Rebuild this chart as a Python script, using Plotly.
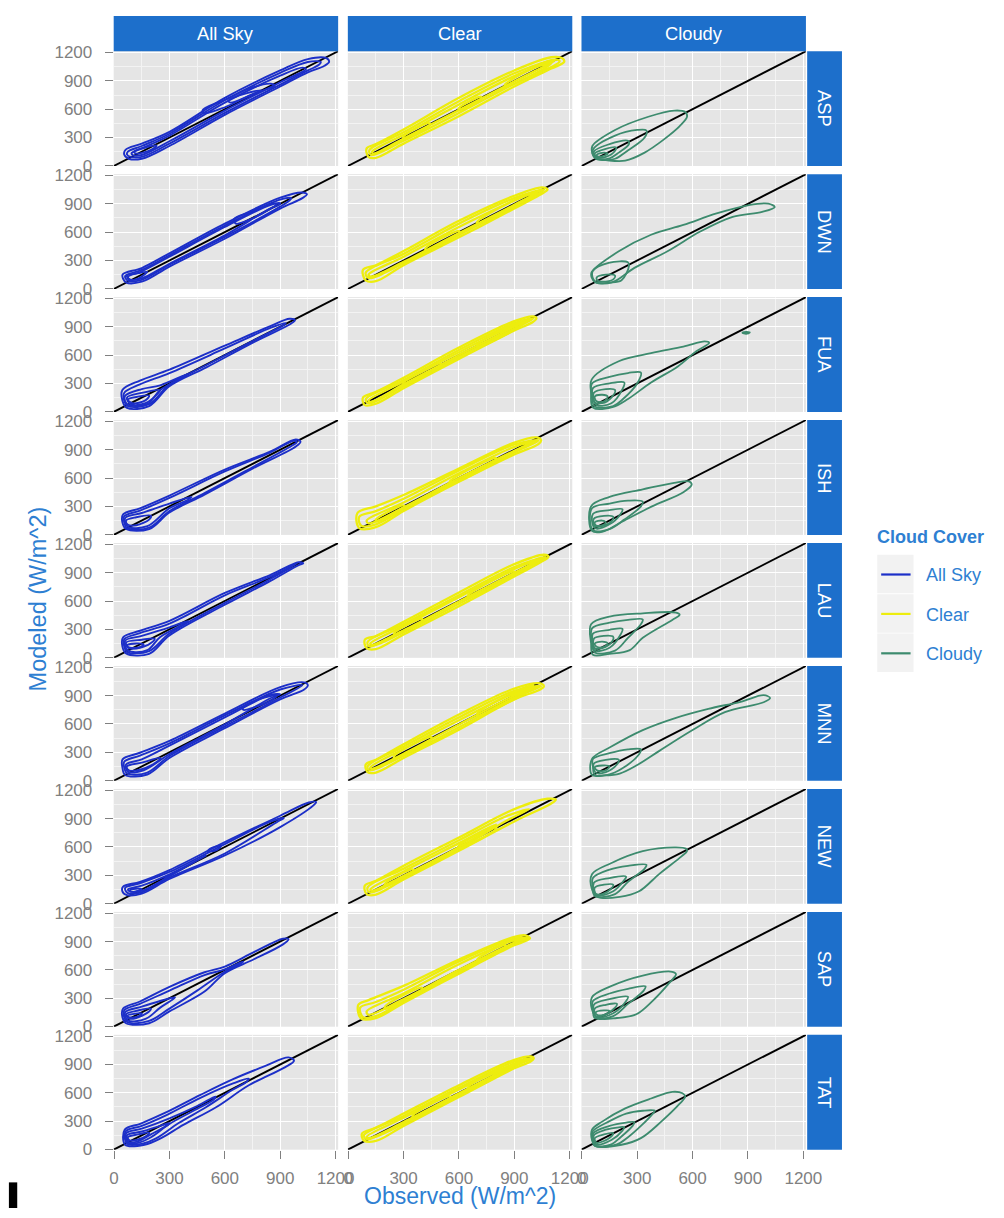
import plotly.graph_objects as go

# ---------------------------------------------------------------------------
# Facet categories, scales and colours
# ---------------------------------------------------------------------------
sites = ["ASP", "DWN", "FUA", "ISH", "LAU", "MNN", "NEW", "SAP", "TAT"]
sky_types = ["All Sky", "Clear", "Cloudy"]
sky_colors = {"All Sky": "#1C2FC8", "Clear": "#EDED0E", "Cloudy": "#3D8B6E"}
major_ticks = [0, 300, 600, 900, 1200]
minor_ticks = [150, 450, 750, 1050]
axis_limits = [-2, 1214]

# ---------------------------------------------------------------------------
# 2-D density contour rings, (observed, modeled) in W/m^2, one list per panel
# ---------------------------------------------------------------------------
asp_all = [
    [(62, 170), (150, 235), (300, 360), (600, 720), (900, 1010), (1050, 1130), (1150, 1140), (1165, 1100),
     (1140, 1060), (1050, 990), (900, 840), (600, 540), (300, 210), (150, 75), (80, 75), (55, 120)],
    [(75, 150), (150, 210), (300, 340), (600, 695), (900, 985), (1050, 1100), (1120, 1100), (1110, 1070),
     (1050, 1010), (900, 860), (600, 560), (300, 235), (150, 95), (90, 95), (70, 120)],
    [(95, 135), (150, 185), (300, 320), (600, 670), (900, 955), (1020, 1040), (1040, 1025), (900, 885),
     (600, 585), (300, 260), (150, 115), (100, 115)],
    [(480, 590), (600, 700), (750, 830), (850, 870), (870, 850), (750, 760), (600, 620), (490, 560)],
    [(620, 690), (720, 770), (800, 800), (720, 730), (630, 670)],
    [(110, 150), (180, 200), (230, 215), (200, 170), (120, 130)],
]
asp_clear = [
    [(100, 185), (150, 230), (300, 385), (600, 720), (900, 1010), (1100, 1150), (1160, 1140), (1170, 1100),
     (1100, 1030), (900, 840), (600, 525), (300, 235), (150, 85), (110, 95)],
    [(115, 165), (300, 355), (600, 685), (900, 980), (1130, 1125), (1145, 1105), (900, 870), (600, 560),
     (300, 265), (125, 115)],
    [(130, 150), (300, 330), (600, 650), (900, 950), (1120, 1115), (900, 895), (600, 590), (300, 290), (135, 130)],
    [(300, 312), (440, 452), (440, 428), (300, 288)],
    [(600, 612), (720, 732), (720, 708), (600, 588)],
    [(850, 862), (1100, 1112), (1100, 1088), (850, 838)],
]
asp_cloudy = [
    [(57, 210), (180, 380), (360, 520), (500, 585), (560, 570), (570, 520), (530, 420), (445, 280), (340, 140),
     (235, 55), (130, 60), (75, 75), (57, 130)],
    [(60, 170), (180, 320), (300, 380), (350, 375), (340, 300), (240, 150), (180, 75), (95, 70), (65, 100)],
    [(65, 150), (150, 230), (250, 265), (255, 230), (200, 140), (150, 80), (80, 80)],
    [(70, 130), (130, 180), (185, 195), (180, 160), (130, 95), (80, 95)],
    [(80, 115), (120, 140), (140, 130), (110, 100), (85, 100)],
]

dwn_all = [
    [(46, 150), (150, 220), (300, 375), (600, 690), (900, 965), (1020, 1020), (1045, 1000), (1020, 960),
     (900, 850), (600, 530), (300, 235), (150, 75), (65, 68)],
    [(60, 135), (150, 200), (300, 355), (600, 670), (900, 945), (960, 960), (950, 935), (900, 870), (600, 550),
     (300, 255), (150, 95), (75, 85)],
    [(75, 125), (150, 185), (300, 340), (600, 655), (850, 890), (900, 905), (890, 885), (850, 855), (600, 565),
     (300, 265), (150, 110), (85, 100)],
    [(650, 740), (750, 820), (850, 900), (880, 895), (850, 850), (750, 745), (660, 690)],
    [(70, 140), (120, 160), (180, 180), (170, 160), (120, 100), (80, 100)],
]
dwn_clear = [
    [(80, 200), (150, 250), (300, 400), (600, 720), (900, 985), (1050, 1075), (1080, 1050), (1060, 1020),
     (900, 850), (600, 545), (300, 250), (150, 80), (95, 90)],
    [(95, 170), (300, 370), (600, 690), (900, 960), (1060, 1050), (1050, 1030), (900, 870), (600, 570),
     (300, 270), (110, 115)],
    [(110, 150), (300, 340), (600, 655), (900, 935), (1045, 1045), (900, 890), (600, 590), (300, 285), (120, 130)],
    [(420, 432), (600, 612), (600, 588), (420, 408)],
    [(700, 712), (1000, 1012), (1000, 988), (700, 688)],
]
dwn_cloudy = [
    [(53, 175), (200, 397), (375, 572), (550, 676), (730, 798), (900, 884), (1010, 902), (1045, 865), (977, 815),
     (817, 762), (641, 606), (464, 397), (287, 224), (163, 68), (74, 68), (53, 120)],
    [(60, 190), (145, 275), (250, 280), (255, 240), (215, 90), (150, 65), (80, 65), (60, 110)],
    [(80, 120), (130, 150), (180, 140), (170, 100), (110, 75), (85, 85)],
]

fua_all = [
    [(45, 230), (140, 330), (300, 445), (600, 700), (850, 910), (950, 985), (980, 970), (960, 935), (760, 740),
     (500, 470), (300, 270), (190, 60), (70, 40), (45, 120)],
    [(55, 200), (140, 290), (300, 410), (600, 670), (850, 890), (930, 940), (920, 920), (760, 760), (500, 495),
     (300, 290), (190, 80), (75, 60), (55, 120)],
    [(60, 170), (150, 240), (250, 280), (400, 400), (380, 370), (250, 230), (180, 80), (80, 70), (60, 110)],
    [(70, 150), (150, 200), (250, 230), (240, 200), (170, 90), (90, 80)],
    [(75, 130), (130, 160), (190, 170), (170, 120), (100, 90)],
]
fua_clear = [
    [(80, 150), (150, 210), (300, 360), (600, 680), (900, 960), (1000, 1010), (1020, 990), (1000, 950),
     (900, 860), (600, 560), (300, 250), (150, 85), (90, 70)],
    [(95, 130), (300, 335), (600, 655), (900, 940), (1005, 990), (900, 880), (600, 580), (300, 270), (110, 90)],
    [(110, 120), (300, 320), (600, 630), (900, 920), (990, 985), (900, 900), (600, 600), (300, 290), (120, 105)],
    [(300, 312), (500, 512), (500, 488), (300, 288)],
    [(700, 712), (950, 962), (950, 938), (700, 688)],
]
fua_cloudy = [
    [(53, 340), (200, 535), (375, 620), (550, 690), (665, 745), (690, 730), (620, 640), (520, 480), (375, 310),
     (250, 135), (165, 48), (60, 45), (50, 200)],
    [(870, 835), (890, 845), (910, 838), (890, 826)],
    [(55, 300), (150, 370), (250, 410), (320, 415), (300, 300), (220, 130), (170, 60), (70, 55), (55, 150)],
    [(60, 250), (150, 300), (230, 310), (220, 240), (160, 90), (80, 70), (60, 150)],
    [(65, 200), (130, 240), (180, 230), (160, 150), (110, 90), (70, 100)],
    [(70, 160), (110, 180), (140, 160), (120, 110), (80, 110)],
]

ish_all = [
    [(49, 215), (140, 280), (300, 415), (600, 690), (845, 880), (985, 1010), (1010, 985), (985, 935), (755, 705),
     (490, 425), (300, 235), (190, 60), (65, 60), (45, 130)],
    [(55, 195), (140, 255), (300, 390), (600, 670), (845, 870), (975, 995), (990, 980), (970, 950), (755, 720),
     (490, 440), (300, 250), (190, 75), (70, 70), (55, 130)],
    [(60, 175), (150, 230), (300, 330), (420, 400), (400, 370), (300, 280), (180, 90), (75, 85)],
    [(65, 150), (120, 185), (200, 200), (190, 160), (120, 100), (75, 105)],
]
ish_clear = [
    [(50, 230), (150, 300), (300, 420), (600, 700), (900, 975), (1020, 1030), (1045, 1000), (1030, 960),
     (900, 850), (600, 560), (300, 250), (150, 80), (60, 70)],
    [(60, 190), (150, 250), (300, 380), (600, 680), (900, 955), (1030, 1000), (900, 870), (600, 580), (300, 270),
     (150, 110), (70, 95)],
    [(100, 150), (300, 340), (600, 650), (900, 930), (1010, 990), (900, 890), (600, 600), (300, 290), (110, 120)],
    [(150, 160), (300, 310), (300, 290), (150, 140)],
    [(550, 562), (800, 812), (800, 788), (550, 538)],
]
ish_cloudy = [
    [(50, 300), (150, 400), (330, 480), (500, 550), (580, 565), (595, 530), (550, 450), (380, 300), (220, 140),
     (110, 30), (55, 40)],
    [(55, 280), (150, 330), (250, 360), (330, 350), (320, 300), (230, 160), (150, 60), (60, 50)],
    [(60, 220), (150, 260), (220, 270), (210, 220), (150, 110), (70, 70)],
    [(65, 170), (120, 200), (170, 190), (160, 140), (110, 90), (70, 90)],
    [(70, 130), (110, 150), (130, 130), (110, 100), (75, 100)],
]

lau_all = [
    [(49, 215), (140, 285), (300, 390), (600, 685), (845, 875), (1000, 1010), (1025, 1000), (1000, 980),
     (845, 810), (600, 560), (300, 235), (190, 40), (65, 45), (45, 120)],
    [(55, 195), (140, 260), (300, 360), (600, 660), (845, 855), (990, 995), (845, 830), (600, 580), (300, 255),
     (190, 70), (70, 60), (55, 120)],
    [(60, 180), (150, 230), (300, 320), (400, 390), (380, 360), (250, 220), (180, 80), (75, 75)],
    [(65, 160), (150, 190), (220, 200), (210, 170), (150, 110), (80, 100)],
    [(70, 130), (120, 150), (160, 140), (140, 110), (80, 110)],
]
lau_clear = [
    [(90, 190), (150, 230), (300, 380), (600, 690), (900, 990), (1060, 1090), (1085, 1070), (1060, 1030),
     (900, 860), (600, 545), (300, 245), (150, 90), (100, 100)],
    [(105, 165), (300, 355), (600, 660), (900, 960), (1070, 1065), (900, 880), (600, 570), (300, 270), (115, 120)],
    [(120, 150), (300, 335), (600, 640), (900, 940), (1060, 1060), (900, 900), (600, 595), (300, 290), (125, 135)],
    [(250, 262), (400, 412), (400, 388), (250, 238)],
    [(650, 662), (900, 912), (900, 888), (650, 638)],
]
lau_cloudy = [
    [(50, 355), (150, 435), (330, 470), (510, 478), (530, 455), (490, 400), (330, 210), (260, 80), (150, 40),
     (60, 30), (50, 150)],
    [(55, 310), (150, 370), (250, 400), (330, 405), (320, 355), (250, 210), (180, 75), (70, 55), (55, 170)],
    [(60, 255), (150, 295), (220, 305), (210, 245), (150, 105), (70, 75), (60, 160)],
    [(65, 200), (120, 230), (170, 220), (160, 160), (110, 100), (70, 100)],
    [(70, 150), (110, 170), (140, 150), (120, 115), (80, 115)],
]

mnn_all = [
    [(46, 225), (140, 295), (300, 420), (600, 710), (900, 990), (1030, 1040), (1050, 1010), (1030, 965),
     (900, 860), (600, 555), (300, 240), (180, 65), (60, 60), (45, 140)],
    [(55, 200), (140, 265), (300, 395), (600, 690), (900, 965), (1020, 1010), (900, 880), (600, 575), (300, 260),
     (180, 85), (70, 75), (55, 140)],
    [(65, 170), (150, 225), (300, 370), (600, 670), (850, 910), (900, 915), (850, 875), (600, 595), (300, 280),
     (160, 110), (75, 95)],
    [(70, 150), (150, 190), (250, 240), (240, 210), (150, 120), (80, 110)],
    [(700, 780), (800, 870), (880, 900), (860, 860), (750, 770), (700, 750)],
]
mnn_clear = [
    [(95, 170), (150, 220), (300, 385), (600, 700), (900, 975), (1040, 1030), (1060, 1000), (1040, 965),
     (900, 860), (600, 540), (300, 240), (150, 85), (105, 90)],
    [(105, 150), (300, 360), (600, 670), (900, 950), (1045, 1000), (900, 880), (600, 565), (300, 265), (115, 110)],
    [(120, 140), (300, 335), (600, 640), (900, 925), (1035, 1005), (900, 900), (600, 595), (300, 285), (125, 125)],
    [(250, 262), (450, 462), (450, 438), (250, 238)],
    [(700, 712), (1000, 1012), (1000, 988), (700, 688)],
]
mnn_cloudy = [
    [(55, 230), (155, 355), (330, 535), (510, 665), (685, 760), (860, 835), (985, 905), (1020, 875), (985, 830),
     (775, 725), (600, 535), (420, 315), (300, 165), (205, 75), (120, 55), (55, 60)],
    [(60, 230), (150, 290), (250, 330), (320, 330), (310, 280), (220, 130), (140, 60), (70, 60), (60, 150)],
    [(65, 180), (130, 220), (200, 220), (190, 170), (130, 90), (75, 85)],
    [(70, 140), (110, 160), (150, 150), (130, 110), (85, 105)],
]

new_all = [
    [(49, 180), (140, 230), (300, 355), (600, 650), (900, 930), (1055, 1070), (1095, 1075), (1080, 1040),
     (900, 810), (600, 510), (300, 260), (150, 105), (70, 90), (45, 130)],
    [(60, 165), (140, 215), (300, 335), (600, 630), (850, 870), (920, 905), (880, 860), (600, 530), (300, 275),
     (150, 120), (75, 110)],
    [(75, 150), (150, 190), (300, 310), (500, 510), (480, 490), (300, 290), (150, 135), (85, 130)],
    [(520, 580), (580, 615), (560, 570), (510, 555)],
    [(85, 140), (130, 160), (150, 150), (120, 130), (90, 125)],
]
new_clear = [
    [(90, 190), (150, 240), (300, 400), (600, 700), (900, 1000), (1080, 1110), (1125, 1100), (1100, 1060),
     (900, 870), (600, 560), (300, 255), (150, 95), (100, 100)],
    [(105, 170), (300, 370), (600, 670), (850, 920), (980, 1000), (850, 870), (600, 580), (300, 275), (115, 120)],
    [(120, 150), (300, 340), (600, 640), (800, 840), (790, 820), (600, 600), (300, 295), (125, 135)],
    [(200, 212), (350, 362), (350, 338), (200, 188)],
    [(600, 612), (800, 812), (800, 788), (600, 588)],
]
new_cloudy = [
    [(55, 310), (155, 425), (330, 555), (510, 595), (565, 580), (570, 555), (540, 500), (420, 315), (310, 130),
     (205, 70), (85, 70), (55, 150)],
    [(60, 270), (150, 360), (250, 400), (350, 410), (340, 370), (250, 230), (180, 100), (70, 80), (60, 160)],
    [(65, 220), (150, 270), (240, 285), (230, 250), (170, 130), (80, 90)],
    [(70, 170), (120, 200), (170, 200), (160, 160), (110, 100), (75, 105)],
]

sap_all = [
    [(49, 190), (140, 265), (300, 420), (490, 575), (600, 635), (755, 785), (915, 930), (945, 925), (915, 870),
     (755, 710), (600, 565), (490, 370), (300, 160), (190, 35), (65, 35), (45, 100)],
    [(55, 170), (140, 240), (300, 380), (490, 545), (600, 605), (700, 690), (690, 670), (600, 580), (450, 380),
     (300, 190), (190, 60), (70, 50)],
    [(60, 150), (150, 210), (250, 270), (330, 310), (320, 290), (250, 200), (170, 80), (75, 65)],
    [(65, 130), (130, 170), (200, 190), (190, 160), (120, 90), (80, 85)],
    [(70, 115), (110, 135), (150, 140), (140, 115), (90, 95)],
]
sap_clear = [
    [(55, 230), (110, 280), (300, 430), (600, 710), (900, 950), (960, 965), (985, 935), (960, 905), (900, 860),
     (600, 560), (300, 250), (150, 90), (70, 85)],
    [(65, 200), (150, 260), (300, 390), (600, 690), (900, 930), (975, 935), (900, 880), (600, 580), (300, 270),
     (150, 110), (80, 100)],
    [(100, 160), (300, 350), (600, 660), (900, 915), (960, 930), (900, 890), (600, 600), (300, 290), (110, 125)],
    [(200, 212), (400, 412), (400, 388), (200, 188)],
    [(700, 712), (850, 862), (850, 838), (700, 688)],
]
sap_cloudy = [
    [(55, 310), (155, 425), (330, 540), (490, 580), (510, 555), (475, 465), (385, 275), (295, 130), (190, 90),
     (85, 90), (55, 180)],
    [(60, 270), (150, 350), (250, 400), (345, 425), (335, 380), (250, 240), (170, 110), (70, 90), (60, 170)],
    [(65, 230), (150, 290), (250, 315), (240, 270), (170, 140), (80, 100)],
    [(70, 190), (130, 230), (190, 240), (180, 200), (120, 120), (75, 110)],
    [(75, 150), (120, 170), (150, 165), (130, 130), (85, 120)],
]

tat_all = [
    [(58, 210), (145, 275), (290, 400), (465, 575), (645, 745), (820, 885), (945, 975), (975, 940), (925, 870),
     (730, 680), (555, 450), (375, 260), (255, 120), (165, 50), (60, 50)],
    [(62, 190), (150, 250), (290, 370), (465, 545), (645, 700), (730, 750), (720, 720), (640, 630), (500, 450),
     (350, 280), (230, 120), (150, 60), (70, 60)],
    [(65, 170), (150, 220), (300, 330), (450, 460), (550, 560), (540, 530), (420, 400), (300, 270), (200, 130),
     (130, 70), (75, 70)],
    [(70, 150), (150, 190), (250, 250), (300, 280), (290, 260), (200, 160), (120, 80), (80, 80)],
    [(75, 130), (130, 160), (190, 180), (180, 150), (120, 100), (85, 95)],
]
tat_clear = [
    [(75, 170), (150, 230), (300, 380), (600, 680), (900, 950), (990, 985), (1005, 965), (990, 935), (900, 860),
     (600, 555), (300, 250), (150, 90), (85, 95)],
    [(85, 150), (300, 355), (600, 655), (900, 930), (995, 965), (900, 880), (600, 575), (300, 270), (100, 110)],
    [(100, 135), (300, 335), (600, 635), (900, 910), (980, 960), (900, 895), (600, 595), (300, 290), (110, 120)],
    [(350, 362), (550, 562), (550, 538), (350, 338)],
    [(650, 662), (850, 862), (850, 838), (650, 638)],
]
tat_cloudy = [
    [(55, 210), (110, 295), (235, 435), (375, 540), (490, 610), (545, 595), (560, 560), (530, 485), (430, 295),
     (320, 120), (215, 50), (75, 35), (55, 100)],
    [(58, 190), (150, 300), (240, 380), (330, 410), (395, 410), (380, 370), (320, 250), (250, 130), (190, 55),
     (70, 40), (58, 110)],
    [(62, 170), (150, 250), (240, 285), (285, 290), (275, 250), (210, 130), (160, 55), (70, 45)],
    [(65, 150), (130, 210), (200, 235), (230, 235), (220, 200), (160, 100), (75, 55)],
    [(70, 120), (120, 160), (170, 175), (165, 150), (120, 90), (80, 70)],
]

contours = {
    ("ASP", "All Sky"): asp_all, ("ASP", "Clear"): asp_clear, ("ASP", "Cloudy"): asp_cloudy,
    ("DWN", "All Sky"): dwn_all, ("DWN", "Clear"): dwn_clear, ("DWN", "Cloudy"): dwn_cloudy,
    ("FUA", "All Sky"): fua_all, ("FUA", "Clear"): fua_clear, ("FUA", "Cloudy"): fua_cloudy,
    ("ISH", "All Sky"): ish_all, ("ISH", "Clear"): ish_clear, ("ISH", "Cloudy"): ish_cloudy,
    ("LAU", "All Sky"): lau_all, ("LAU", "Clear"): lau_clear, ("LAU", "Cloudy"): lau_cloudy,
    ("MNN", "All Sky"): mnn_all, ("MNN", "Clear"): mnn_clear, ("MNN", "Cloudy"): mnn_cloudy,
    ("NEW", "All Sky"): new_all, ("NEW", "Clear"): new_clear, ("NEW", "Cloudy"): new_cloudy,
    ("SAP", "All Sky"): sap_all, ("SAP", "Clear"): sap_clear, ("SAP", "Cloudy"): sap_cloudy,
    ("TAT", "All Sky"): tat_all, ("TAT", "Clear"): tat_clear, ("TAT", "Cloudy"): tat_cloudy,
}
line_widths = {"All Sky": 1.9, "Clear": 2.3, "Cloudy": 1.8}

# ---------------------------------------------------------------------------
# Page geometry (pixels from the top-left corner of the figure)
# ---------------------------------------------------------------------------
W, H = 1004, 1218
FONT = "Liberation Sans, Arial, Helvetica, sans-serif"
STRIP_BLUE = "#1D6FCB"
TEXT_BLUE = "#2E7FD2"
TICK_GREY = "#808080"
PANEL_BG = "#E5E5E5"

col_zero_px = [112.3, 351.2, 589.6]           # pixel x of value 0 in each column
row_zero_px = [160.2 + 124.8 * i for i in range(len(sites))]  # pixel y of value 0 in each row
sx = 226.0 / 1200.0                           # px per W/m^2, horizontal
sy = 115.0 / 1200.0                           # px per W/m^2, vertical
strip_top_px = 8.0
strip_right = (819.5, 855.0)


def fx(p):
    return p / W


def fy(p):
    return 1.0 - p / H


fig = go.Figure()
layout_axes = {}
shapes = []
annotations = []

for r, site in enumerate(sites):
    for c, sky in enumerate(sky_types):
        k = r * 3 + c + 1
        xname = "x" if k == 1 else f"x{k}"
        yname = "y" if k == 1 else f"y{k}"
        x0, y0 = col_zero_px[c], row_zero_px[r]
        left, right = x0 + axis_limits[0] * sx, x0 + axis_limits[1] * sx
        bottom, top = y0 - axis_limits[0] * sy, y0 - axis_limits[1] * sy

        bottom_row = r == len(sites) - 1
        first_col = c == 0
        common = dict(
            range=axis_limits, tickvals=major_ticks, showgrid=True, gridcolor="white", gridwidth=1.3,
            zeroline=False, showline=False, fixedrange=True,
            minor=dict(tickvals=minor_ticks, showgrid=True, gridcolor="#F3F3F3", gridwidth=0.6),
            ticklen=8, tickwidth=1.4, tickcolor=TICK_GREY,
            tickfont=dict(family=FONT, size=17, color=TICK_GREY),
        )
        layout_axes["xaxis" if k == 1 else f"xaxis{k}"] = dict(
            common, domain=[fx(left), fx(right)], anchor=yname,
            showticklabels=bottom_row, ticks="outside" if bottom_row else "", ticklabelstandoff=5,
        )
        layout_axes["yaxis" if k == 1 else f"yaxis{k}"] = dict(
            common, domain=[fy(bottom), fy(top)], anchor=xname,
            showticklabels=first_col, ticks="outside" if first_col else "", ticklabelstandoff=9,
        )

        # 1:1 reference line spanning the panel
        fig.add_trace(go.Scatter(
            x=axis_limits, y=axis_limits, mode="lines", xaxis=xname, yaxis=yname,
            line=dict(color="black", width=1.9), hoverinfo="skip", showlegend=False,
        ))

        # density contours, all rings of one panel in a single trace
        xs, ys = [], []
        for ring in contours[(site, sky)]:
            pts = list(ring) + [ring[0]]
            xs += [p[0] for p in pts] + [None]
            ys += [p[1] for p in pts] + [None]
        fig.add_trace(go.Scatter(
            x=xs, y=ys, mode="lines", xaxis=xname, yaxis=yname,
            line=dict(color=sky_colors[sky], width=line_widths[sky], shape="spline", smoothing=1.0),
            connectgaps=False, hoverinfo="skip", showlegend=False,
        ))

        # column strip
        if r == 0:
            shapes.append(dict(type="rect", xref="paper", yref="paper", x0=fx(left), x1=fx(right),
                               y0=fy(top), y1=fy(strip_top_px), fillcolor=STRIP_BLUE, line=dict(width=0)))
            annotations.append(dict(text=sky, xref="paper", yref="paper", x=fx((left + right) / 2),
                                    y=fy((top + strip_top_px) / 2), xanchor="center", yanchor="middle",
                                    showarrow=False, font=dict(family=FONT, size=18.3, color="white")))
        # row strip
        if c == len(sky_types) - 1:
            shapes.append(dict(type="rect", xref="paper", yref="paper", x0=fx(strip_right[0]),
                               x1=fx(strip_right[1]), y0=fy(bottom), y1=fy(top),
                               fillcolor=STRIP_BLUE, line=dict(width=0)))
            annotations.append(dict(text=site, xref="paper", yref="paper",
                                    x=fx(sum(strip_right) / 2), y=fy((top + bottom) / 2),
                                    xanchor="center", yanchor="middle", textangle=90, showarrow=False,
                                    font=dict(family=FONT, size=18.3, color="white")))

# legend: title, key boxes, key lines and labels
annotations.append(dict(text="<b>Cloud Cover</b>", xref="paper", yref="paper", x=fx(889), y=fy(537),
                        xanchor="left", yanchor="middle", showarrow=False,
                        font=dict(family=FONT, size=18, color=TEXT_BLUE)))
for i, sky in enumerate(sky_types):
    top_px = 555 + 40 * i
    shapes.append(dict(type="rect", xref="paper", yref="paper", x0=fx(891), x1=fx(928),
                       y0=fy(top_px + 39), y1=fy(top_px), fillcolor="#F2F2F2", line=dict(width=0)))
    shapes.append(dict(type="line", xref="paper", yref="paper", x0=fx(895), x1=fx(925),
                       y0=fy(top_px + 20), y1=fy(top_px + 20), line=dict(color=sky_colors[sky], width=2.2)))
    annotations.append(dict(text=sky, xref="paper", yref="paper", x=fx(939), y=fy(top_px + 21),
                            xanchor="left", yanchor="middle", showarrow=False,
                            font=dict(family=FONT, size=18, color=TEXT_BLUE)))

# axis titles
annotations.append(dict(text="Observed (W/m^2)", xref="paper", yref="paper", x=fx(465), y=fy(1206),
                        xanchor="center", yanchor="middle", showarrow=False,
                        font=dict(family=FONT, size=23, color=TEXT_BLUE)))
annotations.append(dict(text="Modeled (W/m^2)", xref="paper", yref="paper", x=fx(35), y=fy(600),
                        xanchor="center", yanchor="middle", textangle=-90, showarrow=False,
                        font=dict(family=FONT, size=23.5, color=TEXT_BLUE)))

# black mark at the lower-left corner of the page
shapes.append(dict(type="rect", xref="paper", yref="paper", x0=fx(5), x1=fx(13.5), y0=0, y1=fy(1192),
                   fillcolor="black", line=dict(width=0)))

fig.update_layout(
    width=W, height=H, autosize=False, margin=dict(l=0, r=0, t=0, b=0),
    paper_bgcolor="white", plot_bgcolor=PANEL_BG, showlegend=False,
    shapes=shapes, annotations=annotations, **layout_axes,
)

fig.write_html("out.html")
